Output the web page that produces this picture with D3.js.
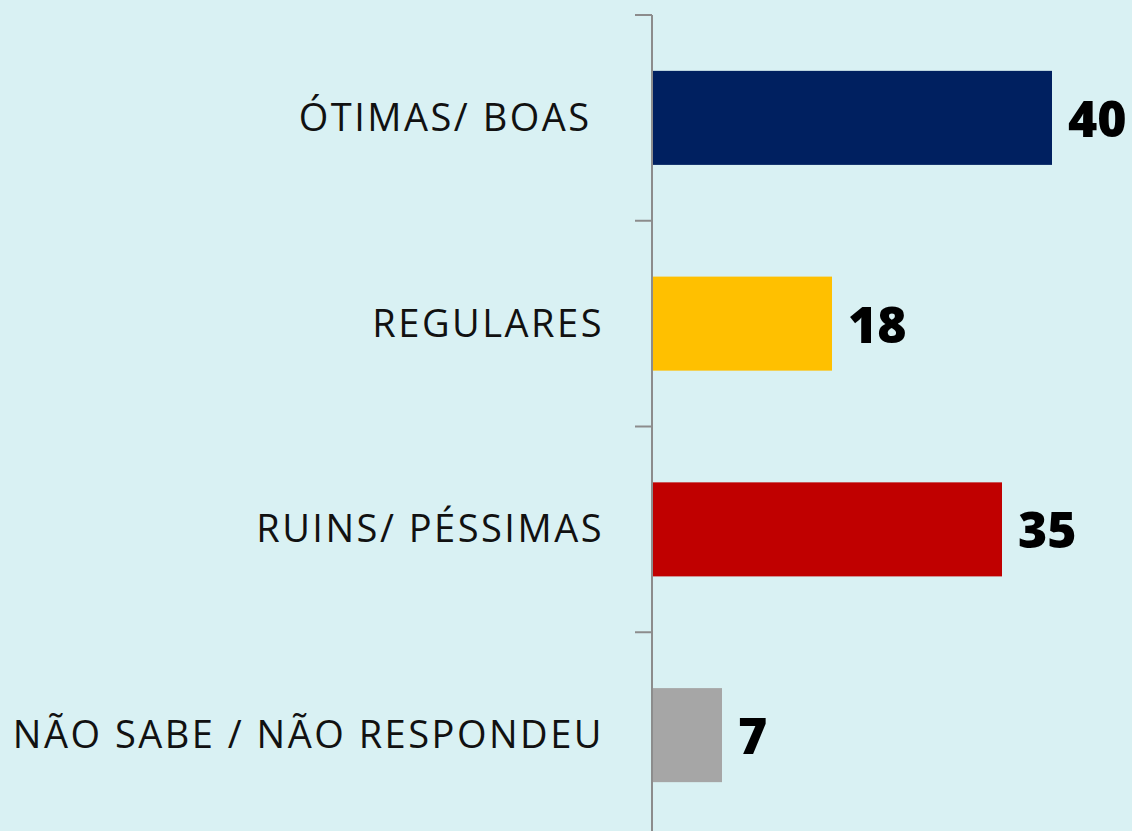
<!DOCTYPE html>
<html>
<head>
<meta charset="utf-8">
<script src="https://cdn.jsdelivr.net/npm/d3@7"></script>
<style>
  html, body { margin: 0; padding: 0; background: #d9f1f3; }
  svg { display: block; }
</style>
</head>
<body>
<svg id="chart" width="1132" height="831"></svg>
<script>
// Survey answers: category labels and their percentages
const categories = ["ÓTIMAS/ BOAS ", "REGULARES", "RUINS/ PÉSSIMAS", "NÃO SABE / NÃO RESPONDEU"];
const values = [40, 18, 35, 7];
const barColors = ["#002060", "#ffc000", "#c00000", "#a6a6a6"];

const data = categories.map((c, i) => ({ category: c, value: values[i], color: barColors[i] }));

const svg = d3.select("#chart");
const width = 1132, height = 831;

svg.append("rect").attr("width", width).attr("height", height).attr("fill", "#d9f1f3");

const axisX = 652;
const x = d3.scaleLinear().domain([0, 40]).range([axisX, 1052]);
const y = d3.scaleBand().domain(categories).range([15, 838]).paddingInner(0.543).paddingOuter(0.2715);

// Bars
svg.append("g").selectAll("rect")
  .data(data)
  .join("rect")
  .attr("x", x(0))
  .attr("y", d => y(d.category))
  .attr("width", d => x(d.value) - x(0))
  .attr("height", y.bandwidth())
  .attr("fill", d => d.color);

// Category axis: vertical line with ticks at band boundaries
const step = y.step();
const boundaries = categories.map(c => y(c) - y.paddingOuter() * step);
const axis = svg.append("g").attr("stroke", "#8c8c8c").attr("stroke-width", 2);
axis.append("line")
  .attr("x1", axisX).attr("x2", axisX)
  .attr("y1", boundaries[0]).attr("y2", boundaries[0] + step * categories.length);
axis.selectAll("line.tick")
  .data(boundaries)
  .join("line")
  .attr("class", "tick")
  .attr("x1", axisX - 17).attr("x2", axisX)
  .attr("y1", d => d).attr("y2", d => d);

// Category labels
svg.append("g").selectAll("text")
  .data(data)
  .join("text")
  .attr("x", 604)
  .attr("y", d => y(d.category) + y.bandwidth() / 2 + 13)
  .attr("text-anchor", "end")
  .attr("font-family", "'Open Sans', sans-serif")
  .attr("font-size", 38)
  .attr("letter-spacing", 2.5)
  .attr("fill", "#111")
  .style("white-space", "pre")
  .text(d => d.category);

// Value labels
svg.append("g").selectAll("text")
  .data(data)
  .join("text")
  .attr("x", d => x(d.value) + 16)
  .attr("y", d => y(d.category) + y.bandwidth() / 2 + 19)
  .attr("font-family", "'Open Sans', sans-serif")
  .attr("font-weight", 800)
  .attr("font-size", 50)
  .attr("fill", "#000")
  .text(d => d.value);
</script>
</body>
</html>
